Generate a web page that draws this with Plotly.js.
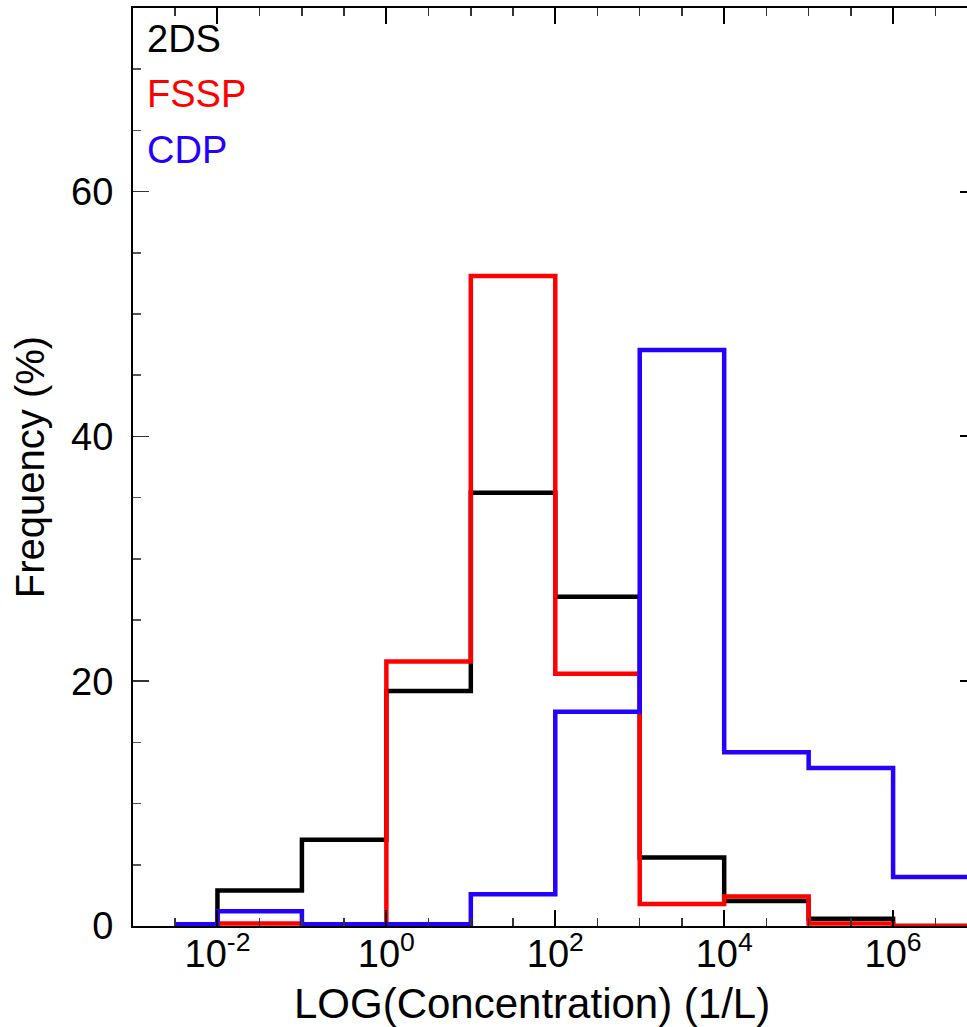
<!DOCTYPE html>
<html>
<head>
<meta charset="utf-8">
<script src="https://cdn.plot.ly/plotly-3.0.1.min.js"></script>
<style>html,body{margin:0;padding:0;background:#fff;overflow:hidden}</style>
</head>
<body>
<div id="chart" style="width:967px;height:1027px"></div>
<script>
// Bin centres in log10(concentration [1/L]); drawn as IDL-style histogram steps
var logConc = [-2.5, -1.5, -0.5, 0.5, 1.5, 2.5, 3.5, 4.5, 5.5, 6.5, 7.5];
var freq2DS  = [0, 2.9, 7.05, 19.2, 35.4, 26.9, 5.6, 2.05, 0.6, 0, 0];
var freqFSSP = [0, 0.2, 0, 21.6, 53.1, 20.6, 1.8, 2.4, 0.2, 0, 0];
var freqCDP  = [0.15, 1.2, 0.15, 0.15, 2.6, 17.5, 47.05, 14.2, 12.9, 4.0, 4.0];
var seriesNames = ["2DS", "FSSP", "CDP"];
var xTickVals = [-2, 0, 2, 4, 6];
var xTickText = ["10<sup>-2</sup>", "10<sup>0</sup>", "10<sup>2</sup>", "10<sup>4</sup>", "10<sup>6</sup>"];
var yTickVals = [0, 20, 40, 60];

var colors = ["#000000", "#ff0000", "#2400ff"];
var FONT = "Liberation Sans, Arial, Helvetica, sans-serif";
var allY = [freq2DS, freqFSSP, freqCDP];

var traces = allY.map(function (ys, i) {
  return {
    type: "scatter", mode: "lines", x: logConc, y: ys, name: seriesNames[i],
    line: {color: colors[i], width: 4.5, shape: "hvh"}, cliponaxis: true,
    hoverinfo: "skip", showlegend: false
  };
});
// empty trace so the right-hand mirrored y ticks axis is drawn
traces.push({type: "scatter", mode: "lines", x: [null], y: [null], yaxis: "y2", showlegend: false, hoverinfo: "skip"});

var legendY = [0.966, 0.906, 0.845];
var annotations = seriesNames.map(function (n, i) {
  return {
    text: n, xref: "paper", yref: "paper", x: 0.0145, y: legendY[i],
    xanchor: "left", yanchor: "middle", showarrow: false,
    font: {family: FONT, size: 38, color: colors[i]}
  };
});
annotations.push({
  text: "LOG(Concentration) (1/L)", xref: "x", yref: "paper", x: 1.72, y: -0.084,
  xanchor: "center", yanchor: "middle", showarrow: false,
  font: {family: FONT, size: 42, color: "#000"}
});

var layout = {
  width: 967, height: 1027,
  margin: {l: 133, r: 0, t: 8, b: 101, pad: 0},
  paper_bgcolor: "#fff", plot_bgcolor: "#fff",
  showlegend: false,
  font: {family: FONT, color: "#000"},
  xaxis: {
    range: [-3, 6.875], tickmode: "array", tickvals: xTickVals, ticktext: xTickText,
    ticks: "inside", ticklen: 16, tickwidth: 2, tickcolor: "#000",
    showline: true, linewidth: 2, linecolor: "#000", mirror: "ticks",
    showgrid: false, zeroline: false, ticklabelstandoff: -7,
    tickfont: {family: FONT, size: 38, color: "#000"},
    minor: {tickmode: "linear", tick0: 0, dtick: 0.5, ticks: "inside", ticklen: 8, tickwidth: 1.5, tickcolor: "#333", showgrid: false}
  },
  yaxis: {
    range: [0, 75], tickmode: "array", tickvals: yTickVals,
    ticks: "inside", ticklen: 16, tickwidth: 1.5, tickcolor: "#333",
    showline: true, linewidth: 2, linecolor: "#000", mirror: false,
    showgrid: false, zeroline: false, ticklabelstandoff: 10,
    tickfont: {family: FONT, size: 38, color: "#000"},
    title: {text: "Frequency (%)", font: {family: FONT, size: 40, color: "#000"}, standoff: 14},
    minor: {tickmode: "linear", tick0: 0, dtick: 5, ticks: "inside", ticklen: 8, tickwidth: 1.5, tickcolor: "#555", showgrid: false}
  },
  yaxis2: {
    overlaying: "y", side: "right", range: [0, 75], tickmode: "array", tickvals: yTickVals,
    ticks: "inside", ticklen: 7, tickwidth: 2, tickcolor: "#000",
    showticklabels: false, showline: false, showgrid: false, zeroline: false
  },
  annotations: annotations
};

Plotly.newPlot("chart", traces, layout, {displayModeBar: false, staticPlot: true});
</script>
</body>
</html>
